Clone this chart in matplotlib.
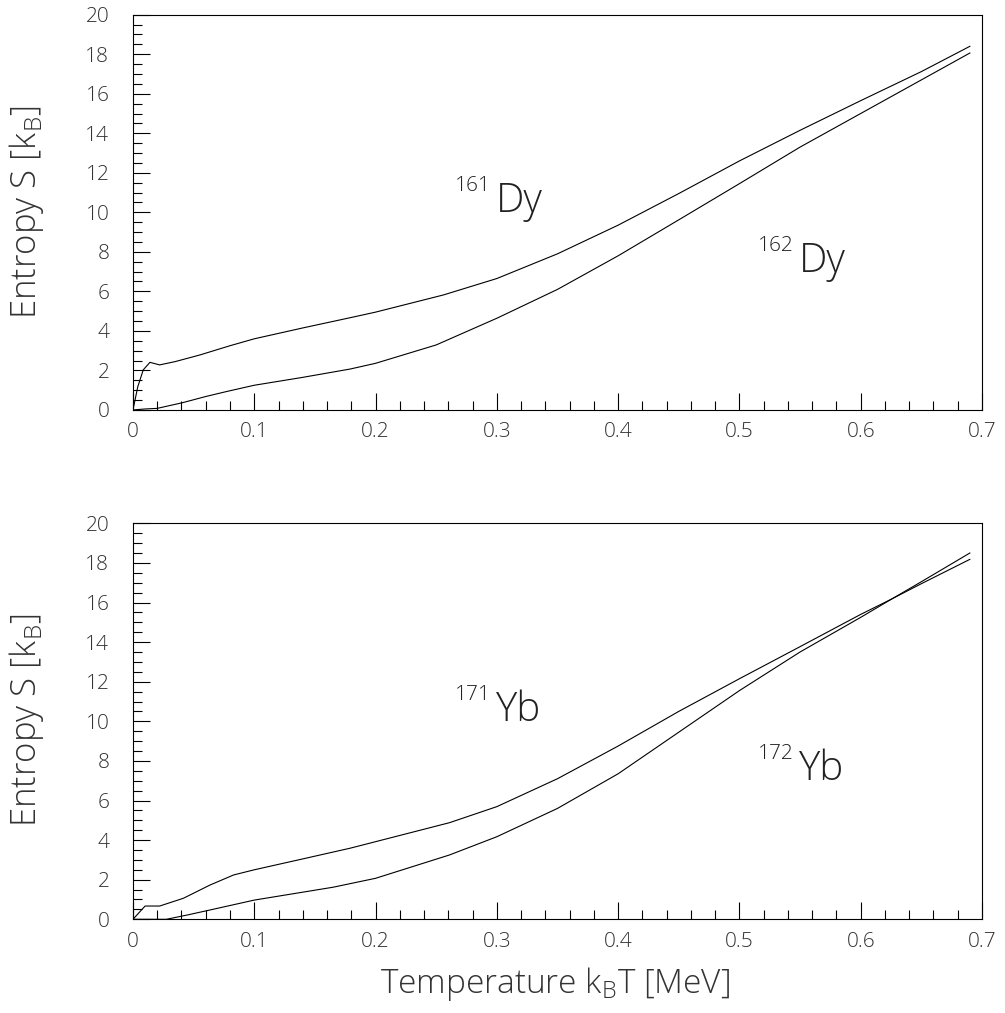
import matplotlib
matplotlib.use('Agg')
import matplotlib.pyplot as plt
from matplotlib.ticker import MultipleLocator

plt.rcParams['font.family'] = ['Open Sans', 'DejaVu Sans']
plt.rcParams['font.weight'] = 'light'

# 161Dy / 162Dy (top panel)
t_dy161 = [0, 0.004, 0.0085, 0.014, 0.022, 0.035, 0.055, 0.08, 0.1, 0.14, 0.18, 0.2,
           0.256, 0.3, 0.35, 0.4, 0.45, 0.5, 0.55, 0.6, 0.65, 0.69]
s_dy161 = [0, 1.18, 2.03, 2.41, 2.28, 2.45, 2.78, 3.25, 3.6, 4.15, 4.68, 4.95,
           5.82, 6.65, 7.9, 9.35, 10.95, 12.6, 14.15, 15.65, 17.12, 18.4]
t_dy162 = [0, 0.01, 0.02, 0.041, 0.06, 0.077, 0.1, 0.14, 0.179, 0.2, 0.25, 0.3,
           0.35, 0.4, 0.45, 0.5, 0.55, 0.6, 0.65, 0.69]
s_dy162 = [0, 0.05, 0.08, 0.37, 0.68, 0.93, 1.25, 1.65, 2.07, 2.36, 3.29, 4.64,
           6.1, 7.8, 9.62, 11.45, 13.3, 15.0, 16.7, 18.06]

# 171Yb / 172Yb (bottom panel)
t_yb171 = [0, 0.01, 0.022, 0.0415, 0.0635, 0.083, 0.1, 0.14, 0.179, 0.2, 0.261, 0.3,
           0.35, 0.4, 0.45, 0.5, 0.55, 0.6, 0.624, 0.65, 0.69]
s_yb171 = [0, 0.67, 0.67, 1.06, 1.73, 2.24, 2.5, 3.05, 3.59, 3.92, 4.88, 5.69,
           7.1, 8.75, 10.5, 12.15, 13.77, 15.4, 16.13, 16.95, 18.18]
t_yb172 = [0, 0.0275, 0.045, 0.0635, 0.1, 0.165, 0.2, 0.261, 0.3, 0.35, 0.4,
           0.45, 0.5, 0.55, 0.6, 0.624, 0.65, 0.69]
s_yb172 = [0, 0, 0.22, 0.47, 0.97, 1.62, 2.07, 3.25, 4.17, 5.6, 7.35,
           9.45, 11.55, 13.5, 15.25, 16.12, 17.05, 18.5]

x_ticks = [0, 0.1, 0.2, 0.3, 0.4, 0.5, 0.6, 0.7]
x_labels = ['0', '0.1', '0.2', '0.3', '0.4', '0.5', '0.6', '0.7']

fig = plt.figure(figsize=(10.05, 10.13), dpi=100)
ax1 = fig.add_axes([0.1323, 0.5953, 0.8448, 0.3902])
ax2 = fig.add_axes([0.1323, 0.0925, 0.8448, 0.3909])


def style(ax):
    ax.set_xlim(0, 0.7)
    ax.set_ylim(0, 20)
    ax.set_xticks(x_ticks)
    ax.set_xticklabels(x_labels)
    ax.xaxis.set_minor_locator(MultipleLocator(0.02))
    ax.yaxis.set_major_locator(MultipleLocator(2))
    ax.yaxis.set_minor_locator(MultipleLocator(0.5))
    ax.tick_params(which='both', direction='in', top=False, right=False,
                   width=0.8, labelsize=15, labelcolor='#333333')
    ax.tick_params(which='major', length=12.2)
    ax.tick_params(which='minor', length=6.3)
    ax.tick_params(axis='y', pad=17)
    ax.tick_params(axis='x', pad=9)
    for sp in ax.spines.values():
        sp.set_linewidth(0.8)


def iso_label(ax, mass, elem, x, y):
    ax.annotate(mass, xy=(x, y), xytext=(0, 15), textcoords='offset points',
                fontsize=15, ha='left', va='baseline', color='#222222')
    ax.annotate(elem, xy=(x, y), xytext=(29.5, 0), textcoords='offset points',
                fontsize=29, ha='left', va='baseline', color='#222222')


style(ax1)
ax1.plot(t_dy161, s_dy161, color='black', lw=0.8)
ax1.plot(t_dy162, s_dy162, color='black', lw=0.8)
iso_label(ax1, '161', 'Dy', 0.2655, 10.0)
iso_label(ax1, '162', 'Dy', 0.5155, 7.0)

style(ax2)
ax2.plot(t_yb171, s_yb171, color='black', lw=0.8)
ax2.plot(t_yb172, s_yb172, color='black', lw=0.8)
iso_label(ax2, '171', 'Yb', 0.2655, 10.03)
iso_label(ax2, '172', 'Yb', 0.5155, 7.03)

ylab = 'Entropy S [k$_\\mathregular{B}$]'
fig.text(27 / 1005, 1 - 212 / 1013, ylab, rotation=90, ha='center', va='center',
         fontsize=25, color='#333333')
fig.text(27 / 1005, 1 - 720 / 1013, ylab, rotation=90, ha='center', va='center',
         fontsize=25, color='#333333')
fig.text(555 / 1005, 1 - 984 / 1013, 'Temperature k$_\\mathregular{B}$T [MeV]',
         ha='center', va='center', fontsize=24, color='#333333')

fig.savefig('out.png', dpi=100)
